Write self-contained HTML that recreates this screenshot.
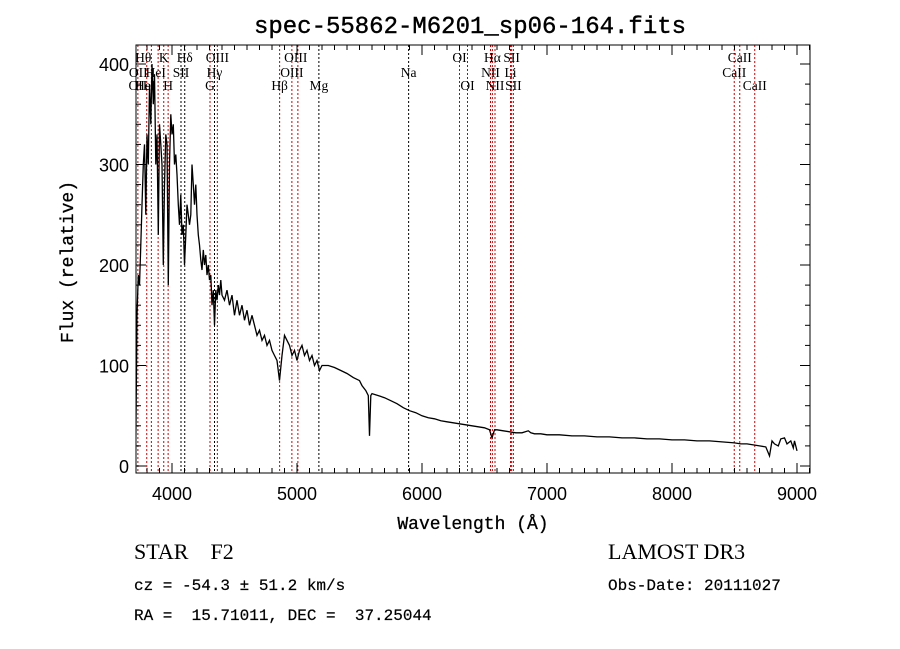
<!DOCTYPE html>
<html><head><meta charset="utf-8"><style>
body{margin:0;background:#fff;width:900px;height:649px;overflow:hidden}
svg{display:block}
text{white-space:pre}
</style></head><body>
<svg id="chart" width="900" height="649" xmlns="http://www.w3.org/2000/svg" xml:space="preserve">
<text x="470" y="33" text-anchor="middle" font-family="Liberation Mono, monospace" font-size="24" stroke="#000" stroke-width="0.4">spec-55862-M6201_sp06-164.fits</text>
<text x="473" y="529" text-anchor="middle" font-family="Liberation Mono, monospace" font-size="18" stroke="#000" stroke-width="0.3">Wavelength (Å)</text>
<text transform="translate(73,262) rotate(-90)" text-anchor="middle" font-family="Liberation Mono, monospace" font-size="18" stroke="#000" stroke-width="0.3">Flux (relative)</text>
<text x="134" y="559" font-family="Liberation Serif, serif" font-size="22">STAR    F2</text>
<text x="134" y="590" font-family="Liberation Mono, monospace" font-size="16" stroke="#000" stroke-width="0.2">cz = -54.3 ± 51.2 km/s</text>
<text x="134" y="620" font-family="Liberation Mono, monospace" font-size="16" stroke="#000" stroke-width="0.2">RA =  15.71011, DEC =  37.25044</text>
<text x="608" y="559" font-family="Liberation Serif, serif" font-size="22">LAMOST DR3</text>
<text x="608" y="590" font-family="Liberation Mono, monospace" font-size="16" stroke="#000" stroke-width="0.2">Obs-Date: 20111027</text>
<g id="plot"></g>
</svg>
<script>
const wavelengths=[3700,3705,3710,3720,3730,3740,3750,3760,3770,3780,3790,3800,3810,3820,3830,3840,3850,3860,3870,3880,3890,3900,3910,3920,3930,3940,3950,3960,3970,3980,3990,4000,4010,4020,4030,4040,4050,4060,4070,4080,4090,4100,4110,4120,4130,4140,4150,4160,4170,4180,4190,4200,4210,4220,4230,4240,4250,4260,4270,4280,4290,4300,4310,4320,4330,4340,4350,4360,4370,4380,4390,4400,4420,4440,4460,4480,4500,4520,4540,4560,4580,4600,4620,4640,4660,4680,4700,4720,4740,4760,4780,4800,4820,4840,4860,4880,4900,4920,4940,4960,4980,5000,5020,5040,5060,5080,5100,5120,5140,5160,5180,5200,5250,5300,5350,5400,5450,5500,5520,5550,5570,5580,5590,5600,5650,5700,5750,5800,5850,5900,5950,6000,6050,6100,6150,6200,6250,6300,6350,6400,6450,6500,6540,6560,6580,6600,6650,6700,6750,6800,6850,6870,6900,6950,7000,7100,7200,7300,7400,7500,7600,7700,7800,7900,8000,8100,8200,8300,8400,8500,8550,8600,8650,8700,8750,8780,8800,8820,8850,8870,8900,8920,8950,8970,8980,9000];
const fluxes=[5,60,20,150,190,180,220,260,300,320,250,330,300,380,340,400,360,390,300,330,230,340,320,300,200,280,330,320,180,300,350,330,340,300,310,290,260,240,270,230,240,200,230,260,250,240,250,300,280,260,280,250,230,220,205,195,215,200,210,190,200,185,190,160,175,140,175,165,180,170,185,170,165,175,160,170,150,165,150,160,145,155,140,150,140,130,135,125,130,120,125,115,110,105,85,110,130,125,120,110,115,105,115,120,110,115,105,110,100,105,95,100,100,98,95,92,88,85,80,75,70,30,70,72,70,68,65,62,58,55,53,50,48,47,45,44,43,42,41,40,39,38,36,28,36,36,35,34,33,33,35,33,32,32,31,31,30,30,29,29,28,28,27,27,26,26,25,25,24,23,22,22,21,20,19,10,25,22,20,27,28,22,25,18,25,15];
const lineWaves=[3727,3798,3835,3889,3934,3969,4072,4102,4304,4340,4363,4861,4959,5007,5175,5893,6300,6364,6548,6563,6584,6708,6717,6731,8498,8542,8662];
const lineRed=[1,1,1,1,1,1,0,0,1,0,1,1,1,1,0,0,1,1,1,1,1,1,1,1,1,1,1];
const lineLabels=[["OII",3727,90],["Hθ",3770,62],["OII",3730,77],["HeI",3870,77],["HeI",3785,90],["K",3934,62],["H",3969,90],["SII",4072,77],["Hδ",4102,62],["OIII",4363,62],["Hγ",4340,77],["G",4304,90],["Hβ",4861,90],["OIII",4990,62],["OIII",4959,77],["Mg",5175,90],["Na",5893,77],["OI",6300,62],["OI",6364,90],["Hα",6563,62],["SII",6717,62],["NII",6548,77],["Li",6708,77],["NII",6584,90],["SII",6731,90],["CaII",8542,62],["CaII",8498,77],["CaII",8662,90]];
const yTicks=[0,100,200,300,400];
const xTicks=[4000,5000,6000,7000,8000,9000];
const NS="http://www.w3.org/2000/svg";
const L=136,R=810,T=45,B=473;
const xs=w=>172+(w-4000)*0.125;
const ys=f=>466-f*1.005;
const g=document.getElementById('plot');
function mk(tag,attrs){const e=document.createElementNS(NS,tag);for(const k in attrs)e.setAttribute(k,attrs[k]);g.appendChild(e);return e;}
lineWaves.forEach((w,i)=>{
 const e=mk('line',{x1:xs(w),x2:xs(w),y1:T,y2:B,stroke:lineRed[i]?'#c00':'#000','stroke-width':1,'stroke-dasharray':'2,2'});
 
 
});
lineLabels.forEach(l=>{
 const t=mk('text',{x:xs(l[1]),y:l[2],'text-anchor':'middle','font-family':'Liberation Serif, serif','font-size':13.5});
 t.textContent=l[0];
 
 
});
const cp=document.createElementNS(NS,'clipPath');cp.setAttribute('id','clip');
const cr=document.createElementNS(NS,'rect');cr.setAttribute('x',L);cr.setAttribute('y',T);cr.setAttribute('width',R-L);cr.setAttribute('height',B-T);cp.appendChild(cr);g.appendChild(cp);
let d='';
wavelengths.forEach((w,i)=>{d+=(i?'L':'M')+xs(w).toFixed(1)+','+ys(fluxes[i]).toFixed(1);});
const p=mk('path',{d:d,fill:'none',stroke:'#000','stroke-width':1.3,'clip-path':'url(#clip)'});


const fr=mk('rect',{x:L,y:T,width:R-L,height:B-T,fill:'none',stroke:'#000','stroke-width':1});


for(let w=3800;w<=9100;w+=100){const major=w%1000===0;const len=major?10:5;
 mk('line',{x1:xs(w),x2:xs(w),y1:B,y2:B-len,stroke:'#000'});mk('line',{x1:xs(w),x2:xs(w),y1:T,y2:T+len,stroke:'#000'});}
for(let f=0;f<=410;f+=20){const major=f%100===0;const len=major?10:5;
 mk('line',{x1:L,x2:L+len,y1:ys(f),y2:ys(f),stroke:'#000'});mk('line',{x1:R,x2:R-len,y1:ys(f),y2:ys(f),stroke:'#000'});}
xTicks.forEach(w=>{const t=mk('text',{x:xs(w),y:500,'text-anchor':'middle','font-family':'Liberation Sans, sans-serif','font-size':18});t.textContent=w;
 
 });
yTicks.forEach(f=>{const t=mk('text',{x:129,y:ys(f)+7,'text-anchor':'end','font-family':'Liberation Sans, sans-serif','font-size':18});t.textContent=f;
 
 });
</script>
</body></html>
